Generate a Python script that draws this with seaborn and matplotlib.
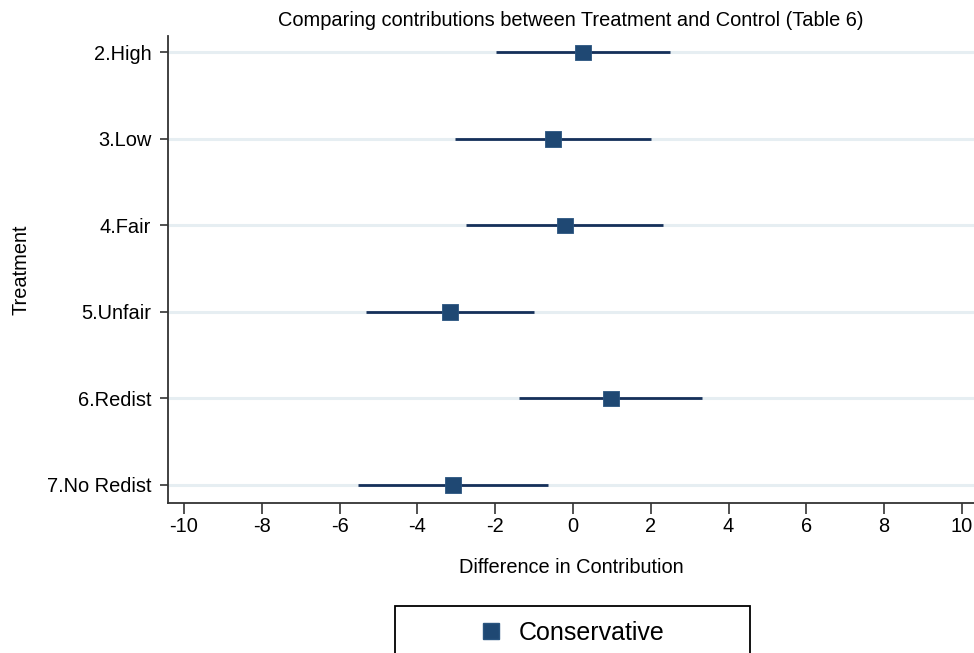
import matplotlib
matplotlib.use("Agg")
import matplotlib.pyplot as plt
import seaborn as sns
import pandas as pd
from matplotlib.patches import Rectangle

treatments = ["2.High", "3.Low", "4.Fair", "5.Unfair", "6.Redist", "7.No Redist"]
estimates = [0.26, -0.51, -0.20, -3.16, 0.98, -3.08]
ci_low = [-1.98, -3.03, -2.75, -5.32, -1.39, -5.53]
ci_high = [2.49, 2.00, 2.31, -1.00, 3.32, -0.64]
xticks = [-10, -8, -6, -4, -2, 0, 2, 4, 6, 8, 10]
group = "Conservative"

sns.set_theme(style="white")
plt.rcParams["font.family"] = ["Liberation Sans", "DejaVu Sans"]
plt.rcParams["text.color"] = "black"

navy = "#1f4873"
line_col = "#15305a"
grid_col = "#e6eef2"
fs = 14.4

df = pd.DataFrame({
    "Treatment": treatments,
    "pos": list(range(len(treatments))),
    "est": estimates,
    "lo": ci_low,
    "hi": ci_high,
    "group": [group] * len(treatments),
})

fig = plt.figure(figsize=(9.74, 6.53), dpi=100)
ax = fig.add_axes([168 / 974, 1 - 503 / 653, 1 - 168 / 974, (503 - 36) / 653])

for p in df["pos"]:
    ax.axhline(p, color=grid_col, lw=2.2, zorder=0)

ax.hlines(df["pos"], df["lo"], df["hi"], color=line_col, lw=2.0, zorder=2)
sns.scatterplot(data=df, x="est", y="pos", hue="group", palette=[navy],
                marker="s", s=125, edgecolor="#2a5580", linewidth=0.6,
                ax=ax, zorder=3, legend=False)

ax.set_xlim(-10.41, 10.31)
ax.set_ylim(5.21, -0.19)
ax.set_xticks(xticks)
ax.set_xticklabels([str(t) for t in xticks])
ax.set_yticks(df["pos"])
ax.set_yticklabels(treatments)
ax.tick_params(axis="x", direction="out", length=8, width=1.2, color="#333333",
               labelsize=fs, labelcolor="black", pad=2, bottom=True)
ax.tick_params(axis="y", direction="out", length=6, width=1.2, color="#333333",
               labelsize=fs, labelcolor="black", pad=6, left=True)

for side in ["top", "right"]:
    ax.spines[side].set_visible(False)
for side in ["left", "bottom"]:
    ax.spines[side].set_color("#333333")
    ax.spines[side].set_linewidth(1.3)

ax.set_xlabel("Difference in Contribution", fontsize=fs, labelpad=16, color="black")
ax.set_ylabel("Treatment", fontsize=fs, labelpad=12, color="black")
ax.set_title("Comparing contributions between Treatment and Control (Table 6)",
             fontsize=fs, pad=7, color="black")

# legend box
rect = Rectangle((395 / 974, -0.02), (750 - 395) / 974, 0.02 + (653 - 606) / 653,
                 transform=fig.transFigure, fill=False, edgecolor="black",
                 lw=1.3, clip_on=False)
fig.patches.append(rect)
handle = plt.Line2D([], [], marker="s", color="none", markerfacecolor=navy,
                    markeredgecolor="#2a5580", markersize=11, linestyle="none")
fig.legend([handle], [group], loc="center", bbox_to_anchor=(570 / 974, 1 - 633 / 653),
           frameon=False, fontsize=18, handletextpad=0.5, handlelength=1.2,
           markerscale=1.0, labelcolor="black")

fig.savefig("out.png", dpi=100)
